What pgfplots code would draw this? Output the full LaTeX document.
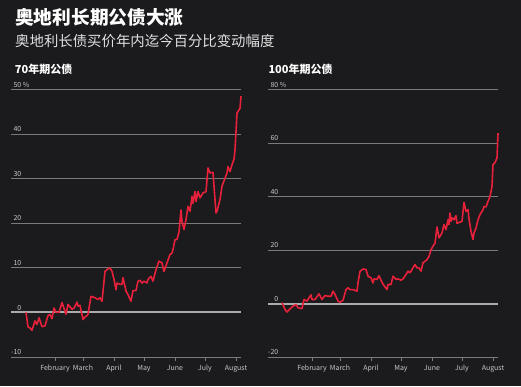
\documentclass[border=0pt]{standalone}
\usepackage{fontspec}
\setmainfont{Noto Sans CJK SC}
\usepackage{pgfplots}
\pgfplotsset{compat=1.18}
\definecolor{bg}{HTML}{1B1A1D}
\definecolor{linered}{HTML}{E8213B}
\definecolor{gridc}{HTML}{7A7A7A}
\definecolor{zeroc}{HTML}{ABABAB}
\definecolor{lab}{HTML}{C8C8C8}
\pgfplotsset{panel/.style={
  scale only axis, width=230pt, height=267.5pt, xmin=-13, xmax=217,
  axis line style={draw=none},
  xtick={31,59,90,120,151,181,212},
  xticklabels={February,March,April,May,June,July,August},
  xtick pos=bottom, tick align=outside, major tick length=4pt,
  x tick style={gridc, line width=0.8pt},
  y tick style={draw=none},
  ymajorgrids, grid style={gridc, line width=0.8pt},
  tick label style={font=\fontsize{7}{8}\selectfont, text=lab},
  yticklabel style={anchor=base east, inner sep=0pt, xshift=14.5pt, yshift=2.3pt},
  xticklabel style={anchor=base, inner sep=0pt, yshift=-9.5pt},
  clip=false,
}}
\begin{document}
\begin{tikzpicture}[x=1pt,y=1pt]
\fill[bg] (0,0) rectangle (521,386);
\useasboundingbox (0,0) rectangle (521,386);
\node[anchor=base west, inner sep=0pt, text=white, font=\fontsize{18.7}{20}\selectfont\bfseries] at (15,361) {奥地利长期公债大涨};
\node[anchor=base west, inner sep=0pt, text=white!88!black, font=\fontsize{14.4}{16}\selectfont] at (15,339) {奥地利长债买价年内迄今百分比变动幅度};
\node[anchor=base west, inner sep=0pt, text=white, font=\fontsize{11}{12}\selectfont\bfseries] at (14.7,312) {70年期公债};
\node[anchor=base west, inner sep=0pt, text=white, font=\fontsize{11}{12}\selectfont\bfseries] at (268.3,312) {100年期公债};

\begin{axis}[panel, at={(11pt,29pt)}, anchor=south west,
  ymin=-10, ymax=50, ytick={-10,0,10,20,30,40,50},
  yticklabels={-10,0,10,20,30,40,50\rlap{ \%}}]
\draw[zeroc, line width=2pt] (axis cs:-13,0) -- (axis cs:217,0);
\addplot[linered, line width=1.6pt, line join=round] coordinates {
(2,0) (4,-3.2) (6,-3.5) (8,-4.0) (11,-1.9) (13,-2.7) (15,-1.2) (18,-3.2)
(21,-3.0) (24,-0.7) (26,-0.5) (28,-1.4) (30,1.0) (32,0) (35,0) (38,2.2)
(42,-0.4) (44,1.8) (48,0.7) (50,1.0) (53,2.3) (54,1.4) (56,1.6) (59,-1.6)
(61,-1.0) (63,-0.7) (64,-0.4) (67,3.6) (71,3.3) (74,2.9) (76,3.3) (78,2.5)
(81,9.2) (83,9.6) (86,10.0) (88,9.2) (90,7.4) (92,5.1) (93,6.6) (96,6.3)
(98,6.3) (99,7.8) (102,4.8) (104,4.0) (107,2.5) (109,4.9) (112,4.9) (114,7.0)
(116,7.2) (118,6.6) (120,7.0) (123,6.6) (124,7.4) (127,8.1) (129,7.0) (132,9.6)
(135,11.5) (138,11.1) (140,9.2) (143,11.1) (146,13.0) (148,13.3) (149,14.1)
(151,16.3) (153,16.4) (155,18.0) (157,23.0) (158,20.4) (160,18.6) (162,20.8)
(164,23.8) (166,22.7) (168,26.0) (169,24.5) (171,27.1) (172,24.9) (174,27.1)
(176,25.7) (179,26.8) (182,27.1) (184,32.4) (186,31.3) (189,31.4) (190,28.3)
(192,22.3) (193,22.7) (196,25.3) (198,28.3) (201,30.1) (203,31.3) (204,32.7)
(206,31.6) (208,33.1) (210,34.4) (211,36.5) (213,44.7) (216,45.8) (217,48.5)
};
\end{axis}

\begin{axis}[panel, at={(268pt,29pt)}, anchor=south west,
  ymin=-20, ymax=80, ytick={-20,0,20,40,60,80},
  yticklabels={-20,0,20,40,60,80\rlap{ \%}}]
\draw[zeroc, line width=2pt] (axis cs:-13,0) -- (axis cs:217,0);
\addplot[linered, line width=1.6pt, line join=round] coordinates {
(1,0.3) (4,-2.2) (6,-3.2) (9,-2.0) (12,-1.0) (15,-0.4) (17,-1.6) (21,-1.9)
(23,1.5) (26,0.9) (28,2.1) (30,3.2) (31,1.5) (34,1.5) (38,3.6) (41,1.5)
(44,3.0) (47,2.7) (50,2.7) (52,4.6) (54,3.4) (57,0.9) (59,0.5) (62,1.2)
(65,5.2) (67,5.9) (69,5.2) (72,5.2) (76,4.6) (77,7.7) (79,12.0) (82,12.9)
(85,12.7) (87,10.2) (90,9.6) (92,7.7) (93,9.2) (96,9.0) (98,10.4) (101,7.9)
(103,6.7) (106,5.2) (107,7.1) (110,7.1) (112,10.2) (115,9.0) (117,9.2) (120,8.7)
(122,9.2) (125,10.8) (127,12.1) (129,11.5) (131,12.7) (134,14.6) (136,13.3)
(138,13.3) (140,12.1) (142,15.2) (146,16.4) (148,17.6) (150,20.1) (152,21.4)
(154,22.6) (156,28.6) (158,24.5) (161,26.4) (163,29.5) (165,27.6) (167,31.3)
(168,29.5) (169,33.8) (170,30.7) (171,32.0) (173,31.3) (175,32.8) (176,29.9)
(178,30.3) (181,30.7) (183,37.8) (185,34.4) (187,35.1) (188,31.6) (190,27.0)
(192,23.9) (193,26.4) (195,28.2) (197,31.3) (199,33.2) (202,35.1) (203,36.3)
(205,36.1) (207,38.2) (209,40.0) (211,43.8) (212,51.9) (214,52.7) (216,54.4)
(217,63.7)
};
\end{axis}
\end{tikzpicture}
\end{document}
